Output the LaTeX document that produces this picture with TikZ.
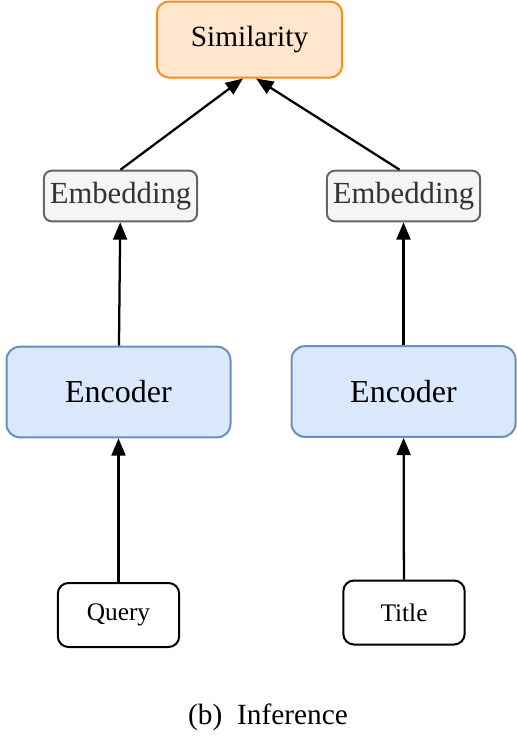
\documentclass[tikz,border=0pt]{standalone}
\usepackage{fontspec}
\setmainfont{Liberation Serif}
\usetikzlibrary{arrows.meta}
\usetikzlibrary{positioning}
\definecolor{simfill}{HTML}{FFE6CC}
\definecolor{simline}{HTML}{FF8C1A}
\definecolor{embfill}{HTML}{F5F5F5}
\definecolor{embline}{HTML}{666666}
\definecolor{embtext}{HTML}{333333}
\definecolor{encfill}{HTML}{DAE8FC}
\definecolor{encline}{HTML}{6C8EBF}
\tikzset{box/.style = {draw, line width=1.5pt, inner sep=0pt, align=center},
         simbox/.style = {box, draw=simline, fill=simfill, rounded corners=9pt,
                          minimum width=139pt, minimum height=57pt,
                          font=\fontsize{22}{26}\selectfont},
         embbox/.style = {box, draw=embline, fill=embfill, text=embtext, rounded corners=6pt,
                          minimum width=115pt, minimum height=38pt,
                          font=\fontsize{23}{28}\selectfont},
         encbox/.style = {box, draw=encline, fill=encfill, rounded corners=10pt,
                          minimum width=168pt, minimum height=68pt,
                          font=\fontsize{24}{29}\selectfont},
         inbox/.style = {box, draw=black, fill=white, rounded corners=8pt,
                         minimum width=91pt, minimum height=48pt,
                         font=\fontsize{19}{23}\selectfont},
         link/.style = {->, line width=1.7pt}}

\begin{document}
\begin{tikzpicture}[x=0.75pt, y=-0.75pt, >={Triangle[length=13pt,width=10.5pt]}]
      \useasboundingbox (0, 0) rectangle (517, 736);
      \node [simbox] (sim) at (249.5, 39.5) {Similarity};
      \node [embbox] (embl) at (120.5, 196) {Embedding};
      \node [embbox] (embr) at (403.5, 196) {Embedding};
      \node [encbox] (encl) at (118.5, 392) {Encoder};
      \node [encbox] (encr) at (403.5, 391.5) {Encoder};
      \node [inbox] (query) at (118.5, 615) {Query};
      \node [inbox] (title) at (404, 612.5) {Title};
      \node (cap) at (268, 717) {\fontsize{22}{26}\selectfont (b)\enspace Inference};
      \draw [link] (query) -- (encl);
      \draw [link] (title) -- (encr);
      \draw [link] (encl) -- (embl);
      \draw [link] (encr) -- (embr);
      \draw [link] (embl.north) -- ([xshift=-4.9pt]sim.south);
      \draw [link] ([xshift=-3pt]embr.north) -- ([xshift=4.9pt]sim.south);
\end{tikzpicture}
\end{document}
